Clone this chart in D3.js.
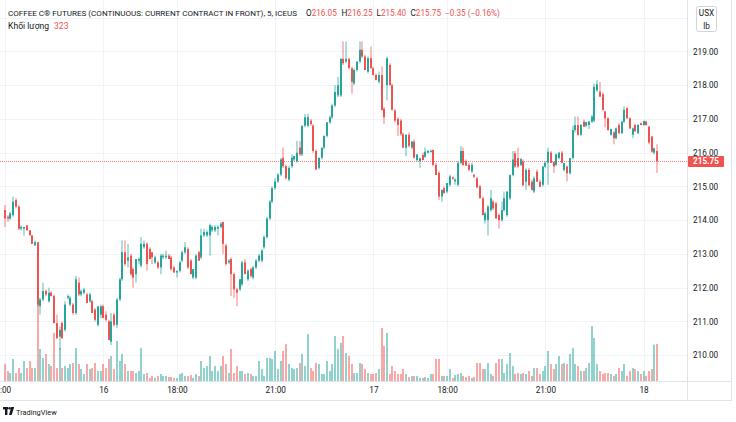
<!DOCTYPE html>
<html><head><meta charset="utf-8">
<script src="https://cdn.jsdelivr.net/npm/d3@7"></script>
<style>
body{margin:0;background:#fff;}
svg{display:block;font-family:Roboto,"Liberation Sans",sans-serif;}
</style></head><body>
<svg id="c" width="736" height="422"></svg>
<script>
// ---- data (5-minute bars) ----
const opens=[
214.30,214.10,214.05,214.15,214.60,214.40,213.75,213.75,213.85,213.70,
213.55,213.25,213.35,211.45,211.65,211.90,211.60,211.85,211.75,210.95,
210.55,210.95,210.75,211.70,211.50,211.50,211.25,212.15,211.80,211.85,
211.80,211.60,211.60,211.35,210.90,211.20,211.45,211.20,211.00,210.40,
211.20,210.90,211.65,212.25,213.05,212.80,212.95,212.55,212.40,212.80,
212.65,213.20,213.30,213.15,213.05,212.75,212.75,212.60,212.90,212.90,
212.95,212.90,212.60,212.45,212.50,212.80,213.05,213.15,212.80,212.30,
212.30,213.05,212.90,213.55,213.55,213.55,213.70,213.70,213.75,213.80,
213.95,213.25,212.75,212.85,212.40,211.95,211.95,212.10,212.75,212.25,
212.55,212.30,212.60,212.80,212.80,213.20,213.50,214.05,214.55,214.95,
215.15,215.35,215.85,215.60,215.20,215.60,215.80,215.75,216.15,215.95,
216.80,216.80,216.95,216.80,216.05,215.55,215.85,216.15,216.50,216.90,
217.05,217.40,217.70,
217.70,218.78,218.70,218.78,218.50,218.05,218.45,218.70,219.05,
218.85,218.40,218.80,218.50,218.30,218.10,218.30,217.30,
218.00,218.60,218.00,217.25,
217.00,216.95,216.55,216.15,216.53,216.15,216.33,215.78,215.75,215.93,215.88,216.00,216.05,216.08,215.64,
215.40,214.70,214.95,214.85,215.05,215.27,215.15,215.05,215.70,216.05,
215.75,215.64,215.44,215.34,215.24,215.00,214.65,214.00,214.00,214.30,
214.55,214.50,214.15,214.00,214.30,214.15,214.65,215.34,215.98,215.84,
215.64,215.74,215.14,215.49,215.14,214.85,215.44,215.14,215.05,215.59,
215.70,216.00,215.72,215.64,215.84,216.00,215.49,215.59,215.39,
215.84,216.67,216.82,216.53,216.92,216.80,216.82,216.92,216.95,217.85,
217.81,217.73,217.22,217.02,216.53,216.60,216.43,216.82,216.58,216.92,
217.32,217.02,216.53,216.82,216.58,216.87,216.82,216.92,216.77,216.48,216.00,216.05];
const highs=[
214.45,214.15,214.25,214.70,214.65,214.45,213.85,213.80,213.85,213.70,
213.55,213.40,213.35,211.70,212.15,211.95,212.00,211.90,211.80,211.20,
210.85,211.00,211.60,211.80,211.75,211.55,212.35,212.30,211.95,212.00,
211.85,211.85,211.65,211.40,211.45,211.50,211.50,211.30,211.05,211.25,
211.25,211.70,212.30,213.40,213.40,213.30,213.00,212.60,212.85,212.90,
213.50,213.40,213.35,213.20,213.05,212.95,212.80,213.00,213.00,213.10,
213.00,212.95,212.65,212.50,212.80,213.10,213.35,213.20,212.85,212.55,
213.00,213.10,213.75,213.75,213.70,213.90,213.85,213.85,213.85,213.95,
213.95,213.30,212.85,212.90,212.45,212.00,212.25,212.80,212.85,212.55,
212.60,212.65,212.85,213.00,213.15,213.55,214.10,214.60,215.00,215.25,
215.40,215.85,216.15,215.65,215.60,215.95,215.90,216.35,216.35,216.80,
217.15,217.15,217.00,216.85,216.10,215.85,216.15,216.50,216.90,217.10,
217.45,218.00,218.25,
218.80,219.30,219.30,218.80,218.55,218.50,218.70,219.30,219.30,
218.90,218.85,219.15,218.55,218.35,218.40,218.55,217.35,
218.85,218.65,218.05,217.30,
217.05,217.00,216.60,216.55,216.60,216.35,216.40,215.95,215.85,216.00,216.15,216.08,216.10,216.10,215.70,
215.45,214.90,215.00,215.10,215.35,215.30,215.25,215.75,216.20,216.15,
215.80,215.70,215.70,215.38,215.28,215.05,214.70,214.25,214.45,214.90,
214.60,214.55,214.20,214.55,214.85,214.85,215.35,216.05,216.05,216.15,
215.85,215.80,215.54,215.55,215.20,215.30,215.50,215.20,215.60,215.75,
216.15,216.05,215.75,215.98,216.03,216.05,215.70,215.62,215.85,
216.80,217.07,217.07,216.85,216.98,216.92,216.95,217.12,218.05,218.15,
218.10,217.78,217.25,217.05,216.72,216.65,216.75,216.88,216.95,217.37,
217.35,217.05,216.75,216.85,216.85,216.90,216.95,216.95,216.80,216.50,216.15,216.25];
const lows=[
213.80,213.95,214.00,214.10,214.35,213.70,213.70,213.55,213.70,213.55,
213.30,213.25,211.45,211.20,211.60,211.75,211.55,211.75,210.95,210.50,
210.15,210.50,210.70,211.65,211.45,211.20,211.20,211.75,211.75,211.80,
211.55,211.55,211.25,211.00,210.85,211.10,211.10,211.00,210.45,210.30,
210.85,210.80,211.60,212.20,212.65,212.60,212.35,212.00,212.15,212.70,
212.60,213.15,212.50,212.85,212.70,212.70,212.55,212.40,212.85,212.85,
212.85,212.50,212.45,212.30,212.45,212.75,213.00,212.55,212.40,212.25,
212.25,212.80,212.85,213.50,213.50,212.95,213.65,213.65,213.55,213.75,
213.00,212.65,212.70,211.75,211.70,211.45,211.90,212.05,212.40,212.20,
212.30,212.25,212.55,212.75,212.75,213.15,213.45,214.00,214.50,214.90,
215.10,215.30,215.55,215.20,215.15,215.55,215.75,215.70,215.90,215.90,
216.75,216.75,216.80,216.00,215.50,215.50,215.80,216.10,216.45,216.85,
217.00,217.35,217.65,
217.65,218.60,218.65,218.50,217.75,218.00,218.40,218.65,218.80,
218.45,218.35,218.50,218.30,218.15,218.05,217.25,216.85,
217.55,218.00,217.25,216.90,
216.50,216.50,216.15,215.90,216.15,216.10,215.83,215.74,215.55,215.78,215.85,215.98,216.00,215.60,215.34,
214.60,214.55,214.80,214.80,215.00,215.20,215.05,215.00,215.65,215.60,
215.60,215.45,215.40,215.25,214.95,214.65,214.15,213.90,213.55,214.25,
214.30,214.05,213.75,213.95,214.25,214.10,214.60,215.30,215.55,215.55,
215.60,215.00,214.90,215.00,214.88,214.80,215.14,214.98,215.00,215.55,
215.05,215.70,215.40,215.60,215.80,215.68,215.45,215.15,215.35,
215.80,216.60,216.50,216.50,216.77,216.75,216.70,216.88,216.90,217.80,
217.65,217.25,216.75,216.65,216.50,216.25,216.40,216.55,216.55,216.88,
217.00,216.70,216.43,216.63,216.55,216.82,216.80,216.80,216.25,216.00,215.95,215.40];
const closes=[
214.05,214.05,214.20,214.55,214.40,213.75,213.80,213.80,213.70,213.55,
213.30,213.35,211.50,211.65,211.90,211.80,211.85,211.75,210.95,210.50,
210.75,210.50,211.50,211.75,211.70,211.25,212.25,211.80,211.90,211.95,
211.55,211.80,211.25,211.05,211.45,211.45,211.10,211.05,210.45,211.00,
210.90,211.65,212.25,213.05,212.70,212.90,212.40,212.30,212.85,212.85,
213.30,213.30,212.70,212.85,212.90,212.90,212.60,212.95,212.95,212.95,
212.85,212.55,212.45,212.50,212.75,213.05,213.20,212.60,212.40,212.55,
212.95,212.80,213.55,213.65,213.65,213.85,213.80,213.80,213.80,213.90,
213.30,212.70,212.80,212.40,211.95,211.85,212.25,212.75,212.40,212.50,
212.35,212.60,212.80,212.95,213.10,213.50,214.05,214.55,214.95,215.15,
215.35,215.80,215.60,215.25,215.55,215.85,215.90,216.00,215.95,216.80,
217.05,217.05,216.85,216.05,215.50,215.85,216.15,216.50,216.90,217.05,
217.40,217.80,218.00,
218.78,218.65,218.78,218.50,218.10,218.45,218.70,219.05,218.85,
218.45,218.80,218.50,218.30,218.15,218.30,217.27,217.05,
218.80,218.00,217.27,216.95,
216.82,216.55,216.15,216.53,216.20,216.33,215.85,215.95,215.83,215.78,216.03,216.05,216.05,215.64,215.34,
214.70,214.90,214.80,215.10,215.30,215.23,215.20,215.70,216.05,215.64,
215.62,215.49,215.64,215.29,214.97,214.65,214.15,214.20,214.40,214.65,
214.35,214.05,214.00,214.30,214.65,214.85,215.34,215.80,215.59,215.59,
215.81,215.04,215.49,215.04,214.90,215.24,215.14,214.99,215.59,215.70,
216.03,215.70,215.59,215.95,216.00,215.70,215.69,215.39,215.84,
216.67,216.82,216.53,216.82,216.77,216.90,216.92,217.07,217.95,218.03,
217.66,217.27,217.02,216.67,216.70,216.43,216.72,216.58,216.92,217.27,
217.02,216.72,216.72,216.63,216.82,216.82,216.94,216.82,216.30,216.03,216.13,215.75];
const volumes=[
148,87,70,192,70,113,70,175,113,175,
113,113,672,279,201,236,148,131,419,113,
288,113,131,113,148,157,288,148,105,61,
148,105,113,157,87,87,148,113,192,218,
105,349,175,236,148,87,87,87,70,87,
288,61,70,26,44,26,44,61,44,44,
35,35,26,26,61,70,44,44,52,26,
61,44,175,113,131,218,87,131,87,131,
218,148,70,279,70,131,87,87,61,70,
61,44,44,175,105,44,201,201,192,262,
105,175,262,323,148,113,105,113,157,236,
131,410,113,87,157,148,61,61,175,87,
148,393,279,
332,393,244,218,148,70,70,157,148,
105,70,61,61,70,105,463,306,
419,61,131,87,
61,61,105,61,35,44,44,44,26,26,35,26,61,61,192,
192,44,44,44,105,26,52,61,70,44,
35,44,26,35,157,157,105,105,157,61,
44,157,192,192,70,148,244,131,61,70,
61,70,61,87,44,113,113,61,87,131,
262,148,105,148,218,148,157,148,236,
288,148,131,87,87,113,157,480,375,148,
87,61,70,70,61,44,61,113,87,148,
44,87,113,105,87,61,87,44,87,105,318,323];
const timeTickIndex=[0,36,63,99,135,162,198,234];
const timeTickLabels=[":00","16","18:00","21:00","17","18:00","21:00","18"];
const priceGrid=[210,211,212,213,214,215,216,217,218,219,220];
const priceLabels=[210,211,212,213,214,215,216,217,218,219];
const lastPrice=215.75;
const titleText="COFFEE C\u00AE FUTURES (CONTINUOUS: CURRENT CONTRACT IN FRONT), 5, ICEUS";
const ohlcKeys=["O","H","L","C"];
const ohlcVals=["216.05","216.25","215.40","215.75"];
const changeText="\u22120.35 (\u22120.16%)";
const volName="Kh\u1ED1i l\u01B0\u1EE3ng";
const volLast="323";
const unitTop="USX", unitBottom="lb";

// ---- layout ----
const W=736,H=422, plotR=687, plotB=381, axisB=400, frameR=732;
const UP="#26a69a", DOWN="#ef5350", TXT="#131722", GRID="#f0f3fa", BORDER="#e0e3eb";
const FS=8.2;
const svg=d3.select("#c");
const n=closes.length;
const x=d3.scaleLinear().domain([0,239]).range([5,657.2]);
const y=d3.scaleLinear().domain([210,219]).range([355.2,51.45]);
const yv=d3.scaleLinear().domain([0,700]).range([plotB,plotB-80.2]);

svg.append("rect").attr("width",W).attr("height",H).attr("fill","#fff");
svg.append("defs").append("clipPath").attr("id","pc").append("rect")
  .attr("x",0).attr("y",0).attr("width",plotR).attr("height",plotB);

const plot=svg.append("g").attr("clip-path","url(#pc)");
// grid
plot.selectAll("line.hg").data(priceGrid).join("line").attr("class","hg")
  .attr("x1",0).attr("x2",plotR).attr("y1",d=>Math.round(y(d))+0.5).attr("y2",d=>Math.round(y(d))+0.5)
  .attr("stroke",GRID).attr("stroke-width",1);
plot.selectAll("line.vg").data(timeTickIndex).join("line").attr("class","vg")
  .attr("y1",0).attr("y2",plotB).attr("x1",d=>Math.round(x(d))+0.5).attr("x2",d=>Math.round(x(d))+0.5)
  .attr("stroke",GRID).attr("stroke-width",1);

const idx=d3.range(n);
const isUp=i=>closes[i]>=opens[i];
// volume
plot.selectAll("rect.vol").data(idx).join("rect").attr("class","vol")
  .attr("x",i=>Math.round(x(i))-1).attr("width",2)
  .attr("y",i=>yv(volumes[i])).attr("height",i=>plotB-yv(volumes[i]))
  .attr("fill",i=>isUp(i)?UP:DOWN).attr("fill-opacity",0.5);
// wicks
plot.selectAll("rect.wick").data(idx).join("rect").attr("class","wick")
  .attr("x",i=>Math.round(x(i))-0.5).attr("width",1)
  .attr("y",i=>y(Math.max(highs[i],opens[i],closes[i])))
  .attr("height",i=>y(Math.min(lows[i],opens[i],closes[i]))-y(Math.max(highs[i],opens[i],closes[i])))
  .attr("fill",i=>isUp(i)?UP:DOWN).attr("fill-opacity",0.75);
// bodies
plot.selectAll("rect.body").data(idx).join("rect").attr("class","body")
  .attr("x",i=>Math.round(x(i))-1).attr("width",2)
  .attr("y",i=>y(Math.max(opens[i],closes[i])))
  .attr("height",i=>Math.max(1,Math.abs(y(opens[i])-y(closes[i]))))
  .attr("fill",i=>isUp(i)?UP:DOWN);
// last price line
plot.append("line").attr("x1",0).attr("x2",plotR)
  .attr("y1",Math.round(y(lastPrice))+0.5).attr("y2",Math.round(y(lastPrice))+0.5)
  .attr("stroke",DOWN).attr("stroke-opacity",0.75).attr("stroke-width",1).attr("stroke-dasharray","1 1");

// frame
svg.append("line").attr("x1",plotR+0.5).attr("x2",plotR+0.5).attr("y1",0).attr("y2",axisB).attr("stroke",BORDER);
svg.append("line").attr("x1",0).attr("x2",frameR).attr("y1",plotB+0.5).attr("y2",plotB+0.5).attr("stroke",BORDER);
svg.append("line").attr("x1",0).attr("x2",frameR).attr("y1",axisB+0.5).attr("y2",axisB+0.5).attr("stroke",BORDER);
svg.append("line").attr("x1",frameR-0.5).attr("x2",frameR-0.5).attr("y1",0).attr("y2",axisB).attr("stroke",BORDER);

// price axis
const ya=svg.append("g").attr("transform",`translate(${plotR},0)`)
  .call(d3.axisRight(y).tickValues(priceLabels).tickFormat(d3.format(".2f")).tickSize(0).tickPadding(6));
ya.select(".domain").remove();
ya.selectAll("text").attr("font-size",FS).attr("fill",TXT).attr("font-family","Roboto,sans-serif");

// time axis
const xa=svg.append("g").attr("transform",`translate(0,${plotB})`)
  .call(d3.axisBottom(x).tickValues(timeTickIndex).tickFormat((d,i)=>timeTickLabels[i]).tickSize(0).tickPadding(6));
xa.select(".domain").remove();
xa.selectAll("text").attr("font-size",FS).attr("fill",TXT).attr("font-family","Roboto,sans-serif");

// last price badge
const by=Math.round(y(lastPrice))+0.5;
svg.append("rect").attr("x",plotR+1).attr("y",by-5.5).attr("width",36).attr("height",11).attr("rx",1).attr("fill",DOWN);
svg.append("text").attr("x",plotR+6).attr("y",by).attr("dy","0.35em").attr("font-size",FS)
  .attr("font-weight","bold").attr("fill","#fff").text(lastPrice.toFixed(2));

// unit box
const ub=svg.append("g");
ub.append("rect").attr("x",696.5).attr("y",6.5).attr("width",20).attr("height",25).attr("rx",2)
  .attr("fill","#fff").attr("stroke","#d1d4dc");
ub.append("text").attr("x",706.5).attr("y",16).attr("text-anchor","middle").attr("font-size",FS).attr("fill",TXT).text(unitTop);
ub.append("text").attr("x",706.5).attr("y",28.5).attr("text-anchor","middle").attr("font-size",FS).attr("fill",TXT).text(unitBottom);

// header line 1: title, then O/H/L/C pairs and change at fixed positions
const hy=16;
svg.append("text").attr("x",8).attr("y",hy).attr("font-size",8.05).attr("fill",TXT).text(titleText);
const keyX=[306,341.5,376.5,410.5];
ohlcKeys.forEach((k,i)=>{
  const t=svg.append("text").attr("x",keyX[i]).attr("y",hy).attr("font-size",8.2).attr("fill",TXT);
  t.append("tspan").text(k);
  t.append("tspan").attr("fill",DOWN).text(ohlcVals[i]);
});
svg.append("text").attr("x",445).attr("y",hy).attr("font-size",8.2).attr("fill",DOWN).text(changeText);
// header line 2
const h2=svg.append("text").attr("x",8).attr("y",28.5).attr("font-size",8.6).attr("fill",TXT);
h2.append("tspan").text(volName);
h2.append("tspan").attr("x",54).attr("fill",DOWN).text(volLast);

// TradingView logo
const lg=svg.append("g").attr("fill",TXT);
lg.append("rect").attr("x",3).attr("y",407).attr("width",5).attr("height",2.4);
lg.append("rect").attr("x",5).attr("y",407).attr("width",2.4).attr("height",8);
lg.append("circle").attr("cx",9.6).attr("cy",408.3).attr("r",1.3);
lg.append("path").attr("d","M11.2,407 L14.2,407 L11.6,415 L9,415 Z");
svg.append("text").attr("x",16).attr("y",414.5).attr("font-size",7.4).attr("fill",TXT).text("TradingView");
</script>
</body></html>
